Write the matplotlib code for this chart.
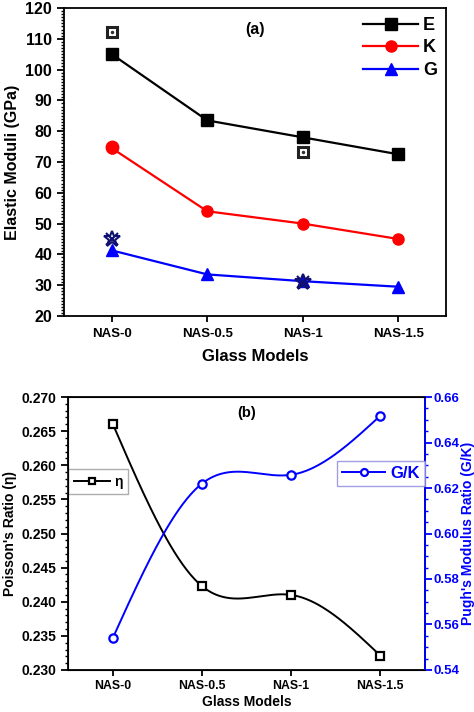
import numpy as np
import matplotlib
matplotlib.use('Agg')
import matplotlib.pyplot as plt
from matplotlib.ticker import AutoMinorLocator, MultipleLocator, FormatStrFormatter

plt.rcParams['font.family'] = ['Liberation Sans', 'DejaVu Sans']
plt.rcParams['font.weight'] = 'bold'

# data
models = ['NAS-0', 'NAS-0.5', 'NAS-1', 'NAS-1.5']
E = [105.0, 83.5, 78.0, 72.5]
K = [74.5, 54.0, 50.0, 45.0]
G = [41.3, 33.5, 31.3, 29.5]
# reference (experimental) points shown as extra markers
E_ref_idx = [0, 2]
E_ref = [112.3, 73.3]
K_ref_idx = [0]
K_ref = [75.0]
G_ref_idx = [0, 2]
G_ref = [45.0, 31.0]

eta = [0.2661, 0.2423, 0.2410, 0.2321]
gk = [0.5539, 0.6219, 0.6258, 0.6518]


def smooth(xs, ys, n=200):
    # natural cubic spline through the points, for a smooth connecting line
    xs = np.asarray(xs, float)
    ys = np.asarray(ys, float)
    m = len(xs)
    h = np.diff(xs)
    A = np.zeros((m, m))
    b = np.zeros(m)
    A[0, 0] = A[-1, -1] = 1
    for i in range(1, m - 1):
        A[i, i - 1] = h[i - 1]
        A[i, i] = 2 * (h[i - 1] + h[i])
        A[i, i + 1] = h[i]
        b[i] = 6 * ((ys[i + 1] - ys[i]) / h[i] - (ys[i] - ys[i - 1]) / h[i - 1])
    M = np.linalg.solve(A, b)
    xx = np.linspace(xs[0], xs[-1], n)
    k = np.clip(np.searchsorted(xs, xx) - 1, 0, m - 2)
    t0 = xs[k + 1] - xx
    t1 = xx - xs[k]
    hk = h[k]
    yy = (M[k] * t0 ** 3 + M[k + 1] * t1 ** 3) / (6 * hk) \
        + (ys[k] / hk - M[k] * hk / 6) * t0 + (ys[k + 1] / hk - M[k + 1] * hk / 6) * t1
    return xx, yy


fig = plt.figure(figsize=(4.74, 7.12), dpi=100)
x = np.arange(len(models))

# ---- panel (a)
ax1 = fig.add_axes([0.135, 0.5562, 0.806, 0.4326])
ax1.plot(x, E, '-s', color='black', lw=1.6, ms=8, label='E')
ax1.plot(x, K, '-o', color='red', lw=1.6, ms=8, label='K')
ax1.plot(x, G, '-^', color='blue', lw=1.6, ms=8, label='G')
ax1.plot(E_ref_idx, E_ref, 's', ls='none', mfc='white', mec='#222222', mew=2.2, ms=7)
ax1.plot(E_ref_idx, E_ref, '.', ls='none', color='#333333', ms=3)
ax1.plot(K_ref_idx, K_ref, 'o', ls='none', color='red', ms=9)
ax1.plot(G_ref_idx, G_ref, '*', ls='none', mfc='none', mec='#101070', mew=1.5, ms=12)
ax1.plot(G_ref_idx, G_ref, 'x', ls='none', color='#101070', mew=1.5, ms=8)

ax1.set_xlim(-0.5, 3.5)
ax1.set_ylim(20, 120)
ax1.set_xticks(x)
ax1.set_xticklabels(models, fontsize=9.5, fontweight='bold')
ax1.yaxis.set_major_locator(MultipleLocator(10))
ax1.yaxis.set_minor_locator(AutoMinorLocator(10))
ax1.tick_params(axis='y', which='major', direction='out', length=5, width=1.3, labelsize=11.5)
ax1.tick_params(axis='y', which='minor', direction='out', length=2.5, width=1)
ax1.tick_params(axis='x', direction='out', length=4, width=1.3, pad=5)
for lab in ax1.get_yticklabels():
    lab.set_fontweight('bold')
for s in ax1.spines.values():
    s.set_linewidth(1.3)
ax1.set_ylabel('Elastic Moduli (GPa)', fontsize=11.5, fontweight='bold', labelpad=4)
ax1.set_xlabel('Glass Models', fontsize=12, fontweight='bold', labelpad=6)
ax1.text(0.5, 0.93, '(a)', transform=ax1.transAxes, ha='center', va='center',
         fontsize=11.5, fontweight='bold')
ax1.legend(loc='upper right', frameon=False, handlelength=3, prop={'weight': 'bold', 'size': 13},
           borderaxespad=0.1, labelspacing=0.3, handletextpad=0.3)

# ---- panel (b)
ax2 = fig.add_axes([0.1435, 0.059, 0.7531, 0.3834])
xs, ys = smooth(x, eta)
ax2.plot(xs, ys, '-', color='black', lw=1.4)
ax2.plot(x, eta, 's', ls='none', color='black', mfc='white', mec='black', mew=1.6, ms=6)
ax2.set_xlim(-0.5, 3.5)
ax2.set_ylim(0.230, 0.270)
ax2.set_xticks(x)
ax2.set_xticklabels(models, fontsize=8.8, fontweight='bold')
ax2.yaxis.set_major_locator(MultipleLocator(0.005))
ax2.yaxis.set_minor_locator(AutoMinorLocator(5))
ax2.yaxis.set_major_formatter(FormatStrFormatter('%.3f'))
ax2.tick_params(axis='y', which='major', direction='out', length=5, width=1.3, labelsize=10)
ax2.tick_params(axis='y', which='minor', direction='out', length=2.5, width=1)
ax2.tick_params(axis='x', direction='out', length=4, width=1.3)
for lab in ax2.get_yticklabels():
    lab.set_fontweight('bold')
for s in ax2.spines.values():
    s.set_linewidth(1.3)
ax2.set_ylabel("Poisson's Ratio (η)", fontsize=10, fontweight='bold', labelpad=3)
ax2.set_xlabel('Glass Models', fontsize=10, fontweight='bold', labelpad=2)
ax2.text(0.5, 0.94, '(b)', transform=ax2.transAxes, ha='center', va='center',
         fontsize=10.5, fontweight='bold')

ax3 = ax2.twinx()
xs, ys = smooth(x, gk)
ax3.plot(xs, ys, '-', color='blue', lw=1.4)
ax3.plot(x, gk, 'o', ls='none', color='blue', mfc='white', mec='blue', mew=1.6, ms=6)
ax3.set_ylim(0.54, 0.66)
ax3.yaxis.set_major_locator(MultipleLocator(0.02))
ax3.yaxis.set_minor_locator(AutoMinorLocator(4))
ax3.yaxis.set_major_formatter(FormatStrFormatter('%.2f'))
ax3.tick_params(axis='y', which='major', direction='out', length=5, width=1.3, labelsize=9.5,
                colors='blue', pad=1)
ax3.tick_params(axis='y', which='minor', direction='out', length=2.5, width=1, colors='blue')
for lab in ax3.get_yticklabels():
    lab.set_fontweight('bold')
ax3.spines['right'].set_color('blue')
ax3.spines['right'].set_linewidth(1.3)
ax3.set_ylabel("Pugh's Modulus Ratio (G/K)", fontsize=10, fontweight='bold', color='blue',
               labelpad=1)

# legend handles
h_eta, = ax2.plot([], [], '-s', color='black', mfc='white', mew=1.6, ms=5, lw=1.4)
h_gk, = ax3.plot([], [], '-o', color='blue', mfc='white', mew=1.6, ms=5, lw=1.4)
leg1 = ax2.legend([h_eta], ['η'], loc='center left', bbox_to_anchor=(0.0, 0.69),
                  frameon=True, fancybox=False, edgecolor='#999999', handlelength=2.6,
                  prop={'size': 10}, borderpad=0.4, handletextpad=0.3, borderaxespad=0)
leg1.get_frame().set_linewidth(1.0)
leg2 = ax3.legend([h_gk], ['G/K'], loc='center right', bbox_to_anchor=(1.0, 0.72),
                  frameon=True, fancybox=False, edgecolor='#8888dd', handlelength=2.6,
                  prop={'size': 12, 'weight': 'bold'}, borderpad=0.3, handletextpad=0.3,
                  borderaxespad=0)
leg2.get_frame().set_linewidth(1.0)
for t in leg2.get_texts():
    t.set_color('blue')

fig.savefig('out.png', dpi=100)
